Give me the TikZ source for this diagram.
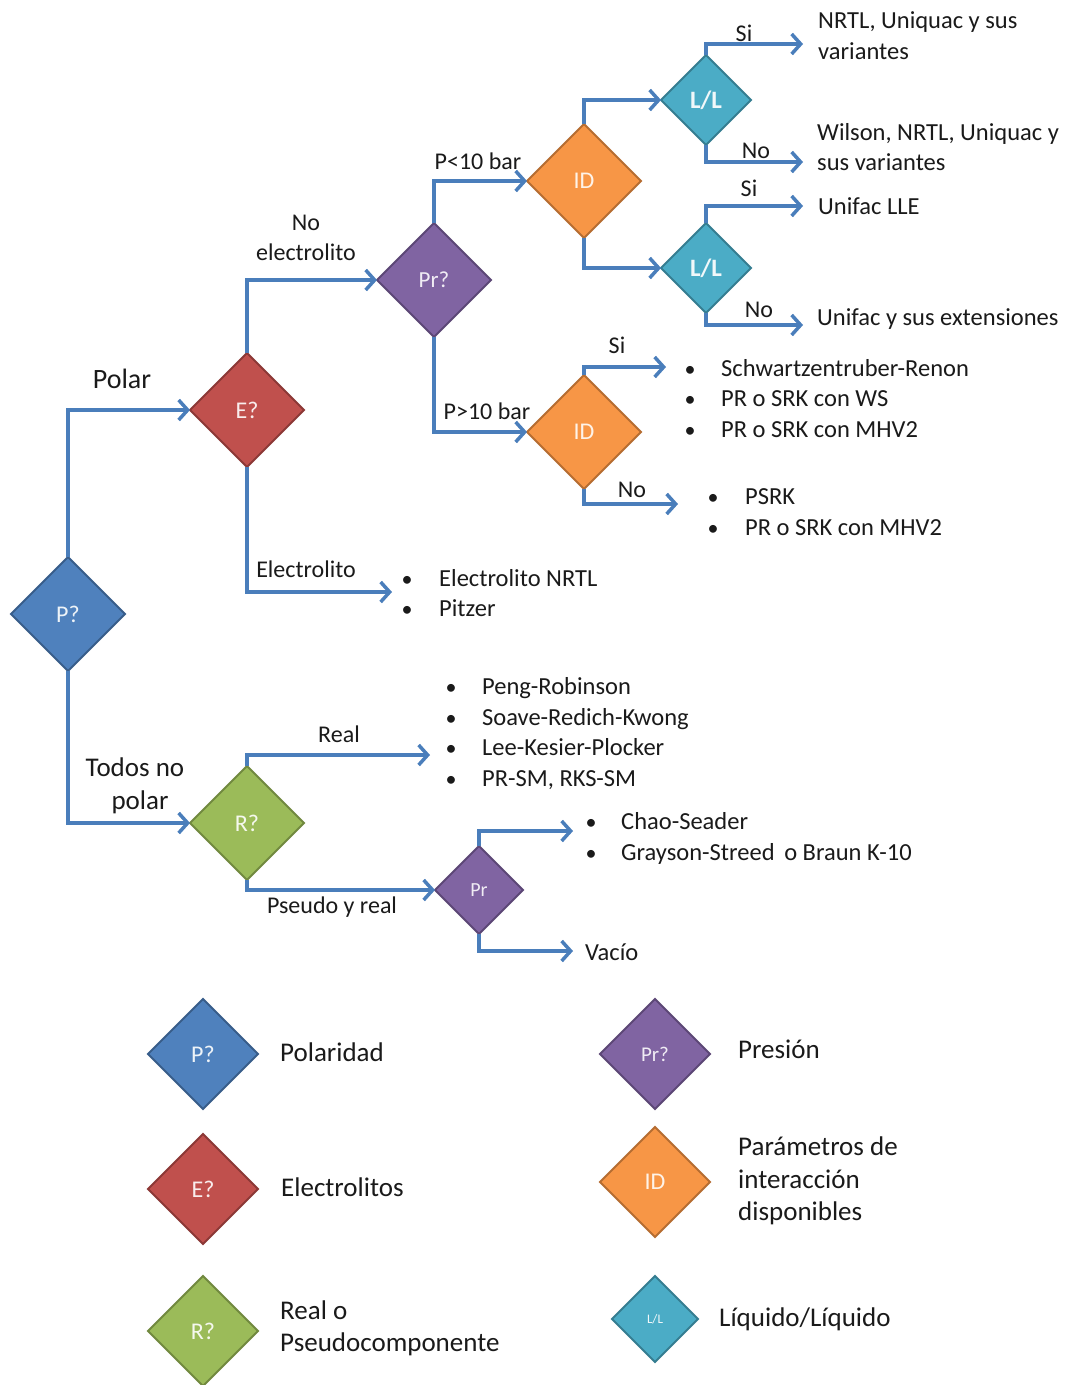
\documentclass[tikz,border=0pt]{standalone}
\usepackage{fontspec}
\setmainfont{Carlito}
\usetikzlibrary{shapes.geometric,arrows.meta}
\definecolor{lineblue}{HTML}{4A7EBB}
\definecolor{cblue}{HTML}{4F81BD}\definecolor{dblue}{HTML}{385D8A}
\definecolor{cred}{HTML}{C0504D}\definecolor{dred}{HTML}{8C3836}
\definecolor{cpurple}{HTML}{8064A2}\definecolor{dpurple}{HTML}{5C4776}
\definecolor{corange}{HTML}{F79646}\definecolor{dorange}{HTML}{B66D31}
\definecolor{cteal}{HTML}{4BACC6}\definecolor{dteal}{HTML}{357D91}
\definecolor{cgreen}{HTML}{9BBB59}\definecolor{dgreen}{HTML}{71893F}
\definecolor{txt}{HTML}{1A1A1A}
\newcommand\fsz[1]{\fontsize{#1pt}{#1pt}\selectfont}
\begin{document}
\begin{tikzpicture}[x=1pt,y=-1pt,
  dia/.style={diamond, aspect=1, inner sep=0pt, outer sep=0pt, minimum width=#1, minimum height=#1, line width=2pt},
  dblue/.style={dia=#1, fill=cblue, draw=dblue, text=white!90!cblue},
  dred/.style={dia=#1, fill=cred, draw=dred, text=white!90!cred},
  dpur/.style={dia=#1, fill=cpurple, draw=dpurple, text=white!88!cpurple},
  dora/.style={dia=#1, fill=corange, draw=dorange, text=white!88!corange},
  dtea/.style={dia=#1, fill=cteal, draw=dteal, text=white!92!cteal},
  dgre/.style={dia=#1, fill=cgreen, draw=dgreen, text=white!90!cgreen},
  arr/.style={draw=lineblue, line width=3.5pt, -{Straight Barb[length=9pt,width=20pt]}},
  lbl/.style={anchor=mid, text=txt, inner sep=0pt, yshift=-5pt, font=\fsz{24}},
  big/.style={anchor=mid, text=txt, inner sep=0pt, yshift=-5pt, font=\fsz{27}},
  txtl/.style={anchor=mid west, text=txt, inner sep=0pt, yshift=-5pt, font=\fsz{24.5}},
  leg/.style={anchor=mid west, text=txt, inner sep=0pt, yshift=-5pt, font=\fsz{27}},
  bul/.style={anchor=mid, text=txt, inner sep=0pt, yshift=-5pt, font=\fsz{22}}
]
\useasboundingbox[fill=white] (0,0) rectangle (1073,1385);

% ---- main diamonds
\node[dblue=114, font=\fsz{24}] (P) at (68,614) {P?};
\node[dred=114, font=\fsz{24}] (E) at (247,410) {E?};
\node[dpur=114, font=\fsz{23}] (Pr) at (434,280) {Pr?};
\node[dora=114, font=\fsz{24}] (ID1) at (584,181) {ID};
\node[dora=114, font=\fsz{24}] (ID2) at (584,432) {ID};
\node[dtea=90, font=\fsz{25}\bfseries] (LL1) at (706,100) {L/L};
\node[dtea=90, font=\fsz{25}\bfseries] (LL2) at (706,268) {L/L};
\node[dgre=114, font=\fsz{24}] (R) at (247,823) {R?};
\node[dpur=88, font=\fsz{20}] (Prs) at (479,890) {Pr};

% ---- free ends
\coordinate (cEl) at (392,592);
\coordinate (c1) at (803,44);
\coordinate (c2) at (803,162);
\coordinate (c3) at (803,206);
\coordinate (c4) at (803,325);
\coordinate (c5) at (666,367);
\coordinate (c6) at (678,504);
\coordinate (c7) at (430,755);
\coordinate (c8) at (573,831);
\coordinate (c9) at (573,951);

% ---- connectors
\draw[arr] (P.north) |- (E.west);
\draw[arr] (P.south) |- (R.west);
\draw[arr] (E.north) |- (Pr.west);
\draw[arr] (E.south) |- (cEl);
\draw[arr] (Pr.north) |- (ID1.west);
\draw[arr] (Pr.south) |- (ID2.west);
\draw[arr] (ID1.north) |- (LL1.west);
\draw[arr] (ID1.south) |- (LL2.west);
\draw[arr] (LL1.north) |- (c1);
\draw[arr] (LL1.south) |- (c2);
\draw[arr] (LL2.north) |- (c3);
\draw[arr] (LL2.south) |- (c4);
\draw[arr] (ID2.north) |- (c5);
\draw[arr] (ID2.south) |- (c6);
\draw[arr] (R.north) |- (c7);
\draw[arr] (R.south) |- (Prs.west);
\draw[arr] (Prs.north) |- (c8);
\draw[arr] (Prs.south) |- (c9);

% ---- edge labels
\node[big, font=\fsz{28}] (lPolar) at (122,381) {Polar};
\node[big] (lTodos1) at (135,769) {Todos no};
\node[big] (lTodos2) at (140,802) {polar};
\node[lbl] (lNoE1) at (306,223) {No};
\node[lbl] (lNoE2) at (306,253) {electrolito};
\node[lbl] (lElec) at (306,570) {Electrolito};
\node[lbl] (lP1) at (478,162) {P<10 bar};
\node[lbl] (lP2) at (487,412) {P>10 bar};
\node[lbl] (lSi1) at (744,34) {Si};
\node[lbl] (lNo1) at (756,151) {No};
\node[lbl] (lSi2) at (749,189) {Si};
\node[lbl] (lNo2) at (759,310) {No};
\node[lbl] (lSi3) at (617,346) {Si};
\node[lbl] (lNo3) at (632,490) {No};
\node[lbl] (lReal) at (339,735) {Real};
\node[lbl] (lPseudo) at (332,906) {Pseudo y real};

% ---- results
\node[txtl] (t1a) at (818,21) {NRTL, Uniquac y sus};
\node[txtl] (t1b) at (818,52) {variantes};
\node[txtl] (t2a) at (817,133) {Wilson, NRTL, Uniquac y};
\node[txtl] (t2b) at (817,163) {sus variantes};
\node[txtl] (t3) at (818,207) {Unifac LLE};
\node[txtl] (t4) at (817,318) {Unifac y sus extensiones};

\node[bul] (b5a) at (690,369) {•}; \node[txtl] (t5a) at (721,369) {Schwartzentruber-Renon};
\node[bul] (b5b) at (690,399) {•}; \node[txtl] (t5b) at (721,399) {PR o SRK con WS};
\node[bul] (b5c) at (690,430) {•}; \node[txtl] (t5c) at (721,430) {PR o SRK con MHV2};

\node[bul] (b6a) at (713,497) {•}; \node[txtl] (t6a) at (745,497) {PSRK};
\node[bul] (b6b) at (713,528) {•}; \node[txtl] (t6b) at (745,528) {PR o SRK con MHV2};

\node[bul] (b7a) at (407,579) {•}; \node[txtl] (t7a) at (439,579) {Electrolito NRTL};
\node[bul] (b7b) at (407,609) {•}; \node[txtl] (t7b) at (439,609) {Pitzer};

\node[bul] (b8a) at (451,687) {•}; \node[txtl] (t8a) at (482,687) {Peng-Robinson};
\node[bul] (b8b) at (451,718) {•}; \node[txtl] (t8b) at (482,718) {Soave-Redich-Kwong};
\node[bul] (b8c) at (451,748) {•}; \node[txtl] (t8c) at (482,748) {Lee-Kesier-Plocker};
\node[bul] (b8d) at (451,779) {•}; \node[txtl] (t8d) at (482,779) {PR-SM, RKS-SM};

\node[bul] (b9a) at (591,822) {•}; \node[txtl] (t9a) at (621,822) {Chao-Seader};
\node[bul] (b9b) at (591,853) {•}; \node[txtl] (t9b) at (621,853) {Grayson-Streed\, o Braun K-10};

\node[txtl] (t10) at (585,953) {Vacío};

% ---- legend
\node[dblue=110, font=\fsz{24}] (gP) at (203,1054) {P?};
\node[dred=110, font=\fsz{24}] (gE) at (203,1189) {E?};
\node[dgre=110, font=\fsz{24}] (gR) at (203,1331) {R?};
\node[dpur=110, font=\fsz{21}] (gPr) at (655,1054) {Pr?};
\node[dora=110, font=\fsz{24}] (gID) at (655,1182) {ID};
\node[dtea=86, font=\fsz{13}] (gLL) at (655,1319) {L/L};

\node[leg] (gtP) at (280,1054) {Polaridad};
\node[leg] (gtE) at (281,1189) {Electrolitos};
\node[leg] (gtR1) at (280,1312) {Real o};
\node[leg] (gtR2) at (280,1344) {Pseudocomponente};
\node[leg] (gtPr) at (738,1051) {Presión};
\node[leg] (gtID1) at (738,1148) {Parámetros de};
\node[leg] (gtID2) at (738,1181) {interacción};
\node[leg] (gtID3) at (738,1213) {disponibles};
\node[leg] (gtLL) at (719,1319) {Líquido/Líquido};
\end{tikzpicture}
\end{document}
